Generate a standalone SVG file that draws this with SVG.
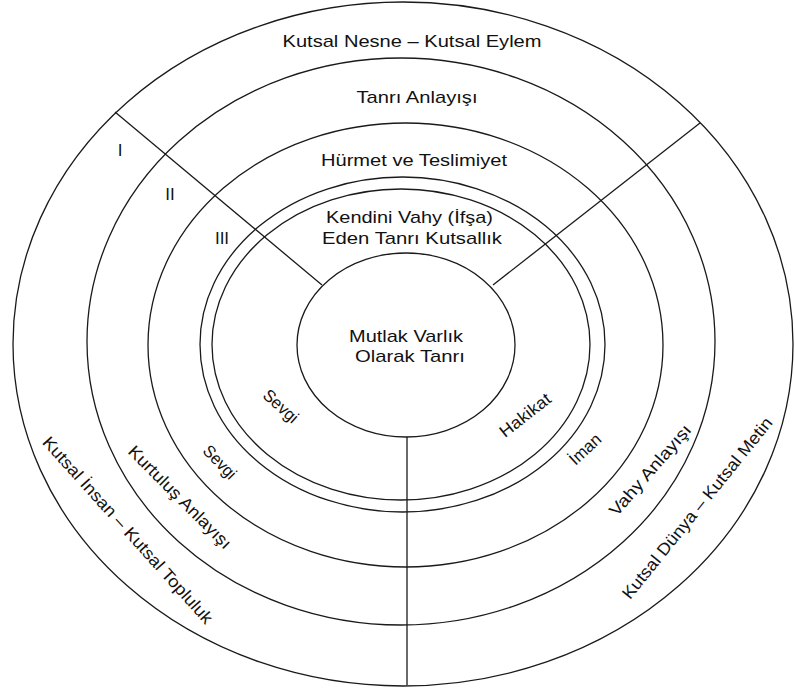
<svg xmlns="http://www.w3.org/2000/svg" width="795" height="690" viewBox="0 0 795 690">
<style>
.r{fill:none;stroke:#1a1a1a;stroke-width:1.3}
.c{stroke:#1a1a1a;stroke-width:1.3;fill:none}
text{font-family:"Liberation Sans",Arial,sans-serif;font-size:17px;fill:#111;text-anchor:middle}
.s{font-size:17px}
</style>
<rect width="795" height="690" fill="#fff"/>
<g id="ring1"><ellipse class="r" cx="403" cy="344" rx="390" ry="342"/>
<text x="412" y="47" textLength="259" lengthAdjust="spacingAndGlyphs">Kutsal Nesne – Kutsal Eylem</text>
<text class="s" transform="translate(128,530) rotate(48)" y="6" textLength="245" lengthAdjust="spacingAndGlyphs">Kutsal İnsan – Kutsal Topluluk</text>
<text class="s" transform="translate(697,508) rotate(-51)" y="6" textLength="228" lengthAdjust="spacingAndGlyphs">Kutsal Dünya – Kutsal Metin</text>
</g>
<g id="ring2"><ellipse class="r" cx="401" cy="341.5" rx="314" ry="283.5"/>
<text x="417" y="103" textLength="121" lengthAdjust="spacingAndGlyphs">Tanrı Anlayışı</text>
<text class="s" transform="translate(180,497) rotate(45)" y="6" textLength="138" lengthAdjust="spacingAndGlyphs">Kurtuluş Anlayışı</text>
<text class="s" transform="translate(650,470) rotate(-49)" y="6" textLength="115" lengthAdjust="spacingAndGlyphs">Vahy Anlayışı</text>
</g>
<g id="ring3"><ellipse class="r" cx="405.5" cy="345" rx="257.5" ry="222"/>
<text x="414" y="166" textLength="186" lengthAdjust="spacingAndGlyphs">Hürmet ve Teslimiyet</text>
<text class="s" transform="translate(220,462) rotate(46)" y="6" textLength="40" lengthAdjust="spacingAndGlyphs">Sevgi</text>
<text class="s" transform="translate(585,449) rotate(-43)" y="6" textLength="37" lengthAdjust="spacingAndGlyphs">İman</text>
</g>
<g id="ring4"><ellipse class="r" cx="402.5" cy="344.5" rx="202.5" ry="167.5"/>
<ellipse class="r" cx="401" cy="344.5" rx="189" ry="155.5"/>
<text x="409.5" y="223" textLength="167" lengthAdjust="spacingAndGlyphs">Kendini Vahy (İfşa)</text>
<text x="412" y="244" textLength="180" lengthAdjust="spacingAndGlyphs">Eden Tanrı Kutsallık</text>
<text class="s" transform="translate(281,406) rotate(42)" y="6" textLength="41" lengthAdjust="spacingAndGlyphs">Sevgi</text>
<text class="s" transform="translate(525,415) rotate(-38)" y="6" textLength="60" lengthAdjust="spacingAndGlyphs">Hakikat</text>
</g>
<g id="core"><ellipse class="r" cx="406" cy="345" rx="109" ry="92"/>
<text x="406" y="342" textLength="114" lengthAdjust="spacingAndGlyphs">Mutlak Varlık</text>
<text x="410" y="362" textLength="110" lengthAdjust="spacingAndGlyphs">Olarak Tanrı</text>
</g>
<g id="levels">
<text x="120" y="156">I</text>
<text x="170" y="200">II</text>
<text x="222" y="244">III</text>
</g>
<g id="connectors">
<line class="c" x1="115" y1="112" x2="322" y2="285"/>
<line class="c" x1="700" y1="123" x2="493" y2="285"/>
<line class="c" x1="407" y1="437" x2="407" y2="685"/>
</g>
</svg>
